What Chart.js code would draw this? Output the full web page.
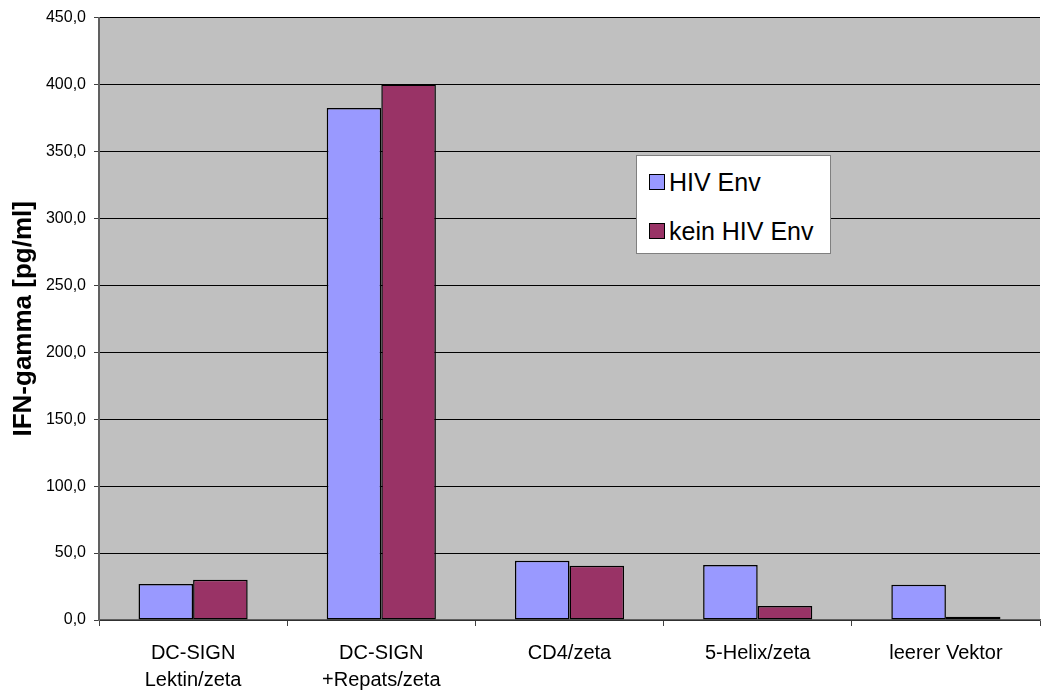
<!DOCTYPE html>
<html>
<head>
<meta charset="utf-8">
<script src="https://cdn.jsdelivr.net/npm/chart.js@4/dist/chart.umd.min.js"></script>
<style>
  html, body { margin: 0; padding: 0; background: #fff; }
  #wrap { position: relative; width: 1042px; height: 693px; }
  #legend {
    position: absolute; left: 636px; top: 155px; width: 195px; height: 99px;
    background: #fff; border: 1px solid #808080; box-sizing: border-box;
    font-family: "Liberation Sans", Arial, sans-serif; font-size: 25px; color: #000;
  }
  .item { position: absolute; left: 12px; display: flex; align-items: center; height: 28px; }
  .sw { width: 14px; height: 14px; border: 1.5px solid #000; margin-right: 4px; }
</style>
</head>
<body>
<div id="wrap">
  <canvas id="c" width="1042" height="693"></canvas>
  <div id="legend"></div>
</div>
<script>
// Categories (x axis), two lines each
const categories = [
  ["DC-SIGN", "Lektin/zeta"],
  ["DC-SIGN", "+Repats/zeta"],
  ["CD4/zeta"],
  ["5-Helix/zeta"],
  ["leerer Vektor"]
];
// IFN-gamma [pg/ml]
const hivEnv = [26.9, 382.5, 44.3, 41.0, 26.4];
const keinHivEnv = [30.1, 400.0, 40.5, 10.4, 2.5];
const seriesNames = ["HIV Env", "kein HIV Env"];
const seriesColors = ["#9999FF", "#993366"];
const yTitle = "IFN-gamma [pg/ml]";

const FONT = "'Liberation Sans', Arial, sans-serif";

// grey plot-area background
const plotBg = {
  id: "plotBg",
  beforeDraw(chart) {
    const { ctx, chartArea: a } = chart;
    ctx.save();
    ctx.fillStyle = "#C0C0C0";
    ctx.fillRect(a.left, a.top, a.right - a.left, a.bottom - a.top);
    ctx.restore();
  }
};

const chart = new Chart(document.getElementById("c"), {
  type: "bar",
  data: {
    labels: categories,
    datasets: [
      { label: seriesNames[0], data: hivEnv, backgroundColor: seriesColors[0] },
      { label: seriesNames[1], data: keinHivEnv, backgroundColor: seriesColors[1] }
    ]
  },
  options: {
    responsive: false,
    devicePixelRatio: 1,
    animation: false,
    layout: { padding: { left: 0, right: 2, top: 16, bottom: 0 } },
    datasets: {
      bar: {
        categoryPercentage: 0.58,
        barPercentage: 1.0,
        borderColor: "#000",
        borderWidth: 1.5,
        borderSkipped: false
      }
    },
    plugins: {
      legend: { display: false },
      tooltip: { enabled: false }
    },
    scales: {
      x: {
        grid: {
          offset: true,
          drawOnChartArea: false,
          tickLength: 6,
          tickColor: "#404040",
          lineWidth: 1
        },
        border: { color: "#606060", width: 1.5 },
        ticks: {
          color: "#000",
          font: { family: FONT, size: 20, lineHeight: 1.35 },
          padding: 14,
          maxRotation: 0,
          autoSkip: false
        },
        afterFit(scale) { scale.height = 73; }
      },
      y: {
        min: 0,
        max: 450,
        ticks: {
          stepSize: 50,
          color: "#000",
          font: { family: FONT, size: 16 },
          padding: 8,
          callback: v => v.toFixed(1).replace(".", ",")
        },
        grid: {
          color: "#000",
          lineWidth: 1,
          tickLength: 5,
          tickColor: "#404040"
        },
        border: { color: "#606060", width: 2 },
        title: {
          display: true,
          text: yTitle,
          color: "#000",
          font: { family: FONT, size: 26, weight: "bold" },
          padding: { top: 8, bottom: 0 }
        },
        afterFit(scale) { scale.width = 99; }
      }
    }
  },
  plugins: [plotBg]
});

// legend box built from the dataset definitions
const legend = document.getElementById("legend");
chart.data.datasets.forEach((ds, i) => {
  const item = document.createElement("div");
  item.className = "item";
  item.style.top = (12 + i * 49) + "px";
  const sw = document.createElement("span");
  sw.className = "sw";
  sw.style.background = ds.backgroundColor;
  const tx = document.createElement("span");
  tx.textContent = ds.label;
  item.appendChild(sw);
  item.appendChild(tx);
  legend.appendChild(item);
});
</script>
</body>
</html>
